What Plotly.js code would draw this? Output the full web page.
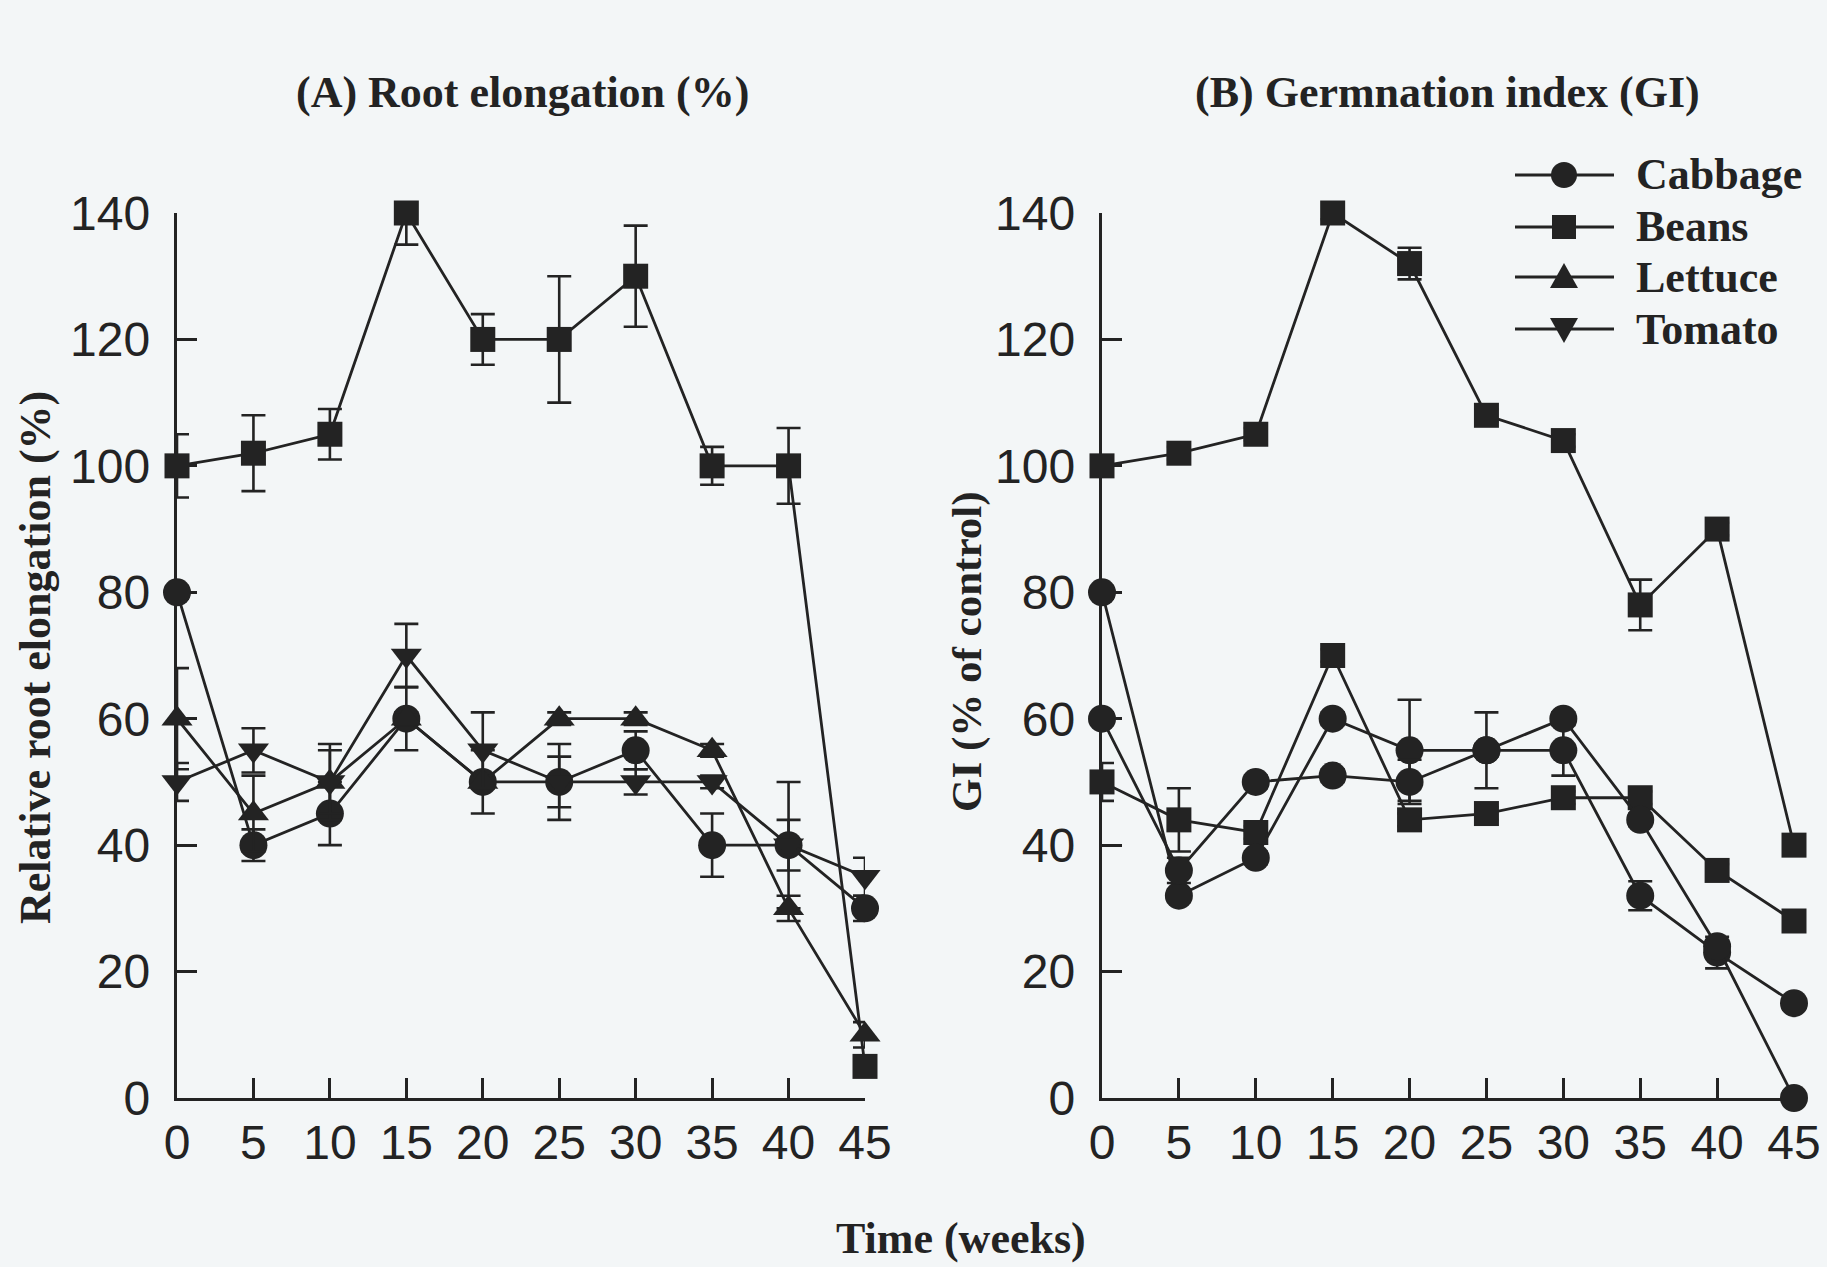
<!DOCTYPE html>
<html>
<head>
<meta charset="utf-8">
<script src="https://cdn.plot.ly/plotly-3.0.1.min.js"></script>
<style>
  html, body { margin: 0; padding: 0; background: #f3f6f7; }
  #chart { width: 1827px; height: 1267px; }
</style>
</head>
<body>
<div id="chart"></div>
<script>
// Sampling times (weeks of litter age)
const weeks = [0, 5, 10, 15, 20, 25, 30, 35, 40, 45];

// Species names (legend order)
const species = ["Cabbage", "Beans", "Lettuce", "Tomato"];

// (A) Relative root elongation (%)
const rootCabbage = [80, 40, 45, 60, 50, 50, 55, 40, 40, 30];
const rootBeans   = [100, 102, 105, 140, 120, 120, 130, 100, 100, 5];
const rootLettuce = [60, 45, 50, 60, 50, 60, 60, 55, 30, 10];
const rootTomato  = [50, 55, 50, 70, 55, 50, 50, 50, 40, 35];

const rootCabbageErr = [1, 2.5, 5, 5, 5, 6, 3, 5, 10, 2];
const rootBeansErr   = [5, 6, 4, 5, 4, 10, 8, 3, 6, 1];
const rootLettuceErr = [8, 6, 6, 1, 1, 1, 1, 1, 2, 2];
const rootTomatoErr  = [3, 3.5, 5, 5, 6, 4, 2, 1, 4, 3];

// (B) Germination index (% of control)
const giCabbage = [80, 32, 38, 60, 55, 55, 55, 32, 23, 15];
const giBeans   = [100, 102, 105, 140, 132, 108, 104, 78, 90, 40];
const giLettuce = [60, 36, 50, 51, 50, 55, 60, 44, 24, 0];
const giTomato  = [50, 44, 42, 70, 44, 45, 47.5, 47.5, 36, 28];

const giCabbageErr = [1, 1, 1, 1, 8, 6, 4, 2.3, 2.5, 1];
const giBeansErr   = [1, 1, 1, 1, 2.5, 1, 1, 4, 1, 1];
const giLettuceErr = [1, 2, 1, 1, 3.5, 1, 1, 1, 1, 1];
const giTomatoErr  = [3, 5, 1, 1, 1, 1, 1, 1, 1, 1];

const INK = '#232323';
const W = 1827, H = 1267;
const px = v => v / W;
const py = v => 1 - v / H;

const TICK_FONT = { family: 'Liberation Sans, Arial, sans-serif', size: 48, color: INK };
const SERIF = 'Liberation Serif, Times New Roman, serif';

function series(name, y, err, symbol, size, xa, ya) {
  return {
    type: 'scatter', mode: 'lines+markers', name: name,
    x: weeks, y: y, xaxis: xa, yaxis: ya,
    showlegend: false, cliponaxis: false,
    line: { color: INK, width: 2.8 },
    marker: { symbol: symbol, size: size, color: INK, line: { width: 0 } },
    error_y: { type: 'data', array: err, visible: true, color: INK, thickness: 2.6, width: 12 }
  };
}

const traces = [
  series(species[1], rootBeans, rootBeansErr, 'square', 25, 'x', 'y'),
  series(species[0], rootCabbage, rootCabbageErr, 'circle', 28, 'x', 'y'),
  series(species[2], rootLettuce, rootLettuceErr, 'triangle-up', 27, 'x', 'y'),
  series(species[3], rootTomato, rootTomatoErr, 'triangle-down', 27, 'x', 'y'),

  series(species[1], giBeans, giBeansErr, 'square', 25, 'x2', 'y2'),
  series(species[3], giTomato, giTomatoErr, 'square', 25, 'x2', 'y2'),
  series(species[0], giCabbage, giCabbageErr, 'circle', 28, 'x2', 'y2'),
  series(species[2], giLettuce, giLettuceErr, 'circle', 28, 'x2', 'y2')
];

function xAxis(domain) {
  return {
    domain: domain, range: [0, 45], tickvals: weeks,
    ticks: 'inside', ticklen: 20, tickwidth: 2.8, tickcolor: INK,
    showline: true, linewidth: 3.2, linecolor: INK,
    showgrid: false, zeroline: false, tickfont: TICK_FONT,
    ticklabelstandoff: 0, fixedrange: true
  };
}
function yAxis(anchor) {
  return {
    domain: [py(1098), py(213)], range: [0, 140], dtick: 20, anchor: anchor,
    ticks: 'inside', ticklen: 20, tickwidth: 2.8, tickcolor: INK,
    showline: true, linewidth: 3.2, linecolor: INK,
    showgrid: false, zeroline: false, tickfont: TICK_FONT,
    ticklabelstandoff: 14, fixedrange: true
  };
}

const annotations = [];
function label(text, x, y, size, angle) {
  annotations.push({
    text: '<b>' + text + '</b>', xref: 'paper', yref: 'paper',
    x: px(x), y: py(y), xanchor: 'center', yanchor: 'middle',
    showarrow: false, textangle: angle || 0,
    font: { family: SERIF, size: size, color: INK }
  });
}
label('(A) Root elongation (%)', 522, 93, 44);
label('(B) Germnation index (GI)', 1447, 93, 44);
label('Relative root elongation (%)', 35, 658, 44, -90);
label('GI (% of control)', 967, 652, 43, -90);
label('Time (weeks)', 961, 1238, 44);

// Legend drawn with long line samples in the upper right of panel B
const shapes = [];
const legendY = [175, 227, 277, 329];
const legendSymbols = ['circle', 'square', 'triangle-up', 'triangle-down'];
legendY.forEach((yy, i) => {
  shapes.push({
    type: 'line', xref: 'paper', yref: 'paper',
    x0: px(1515), x1: px(1614), y0: py(yy), y1: py(yy),
    line: { color: INK, width: 2.8 }
  });
  const base = {
    xref: 'paper', yref: 'paper', xsizemode: 'pixel', ysizemode: 'pixel',
    xanchor: px(1564), yanchor: py(yy), fillcolor: INK, line: { width: 0 }
  };
  const s = legendSymbols[i];
  if (s === 'circle') shapes.push(Object.assign({ type: 'circle', x0: -13, x1: 13, y0: -13, y1: 13 }, base));
  if (s === 'square') shapes.push(Object.assign({ type: 'rect', x0: -12, x1: 12, y0: -12, y1: 12 }, base));
  if (s === 'triangle-up') shapes.push(Object.assign({ type: 'path', path: 'M-14,-11 L14,-11 L0,14 Z' }, base));
  if (s === 'triangle-down') shapes.push(Object.assign({ type: 'path', path: 'M-14,11 L14,11 L0,-14 Z' }, base));
  annotations.push({
    text: '<b>' + species[i] + '</b>', xref: 'paper', yref: 'paper',
    x: px(1634), y: py(yy), xanchor: 'left', yanchor: 'middle', showarrow: false,
    font: { family: SERIF, size: 44, color: INK }
  });
});

const layout = {
  width: W, height: H,
  margin: { l: 0, r: 0, t: 0, b: 0 },
  paper_bgcolor: '#f3f6f7', plot_bgcolor: 'rgba(0,0,0,0)',
  showlegend: false,
  xaxis: Object.assign(xAxis([px(177), px(865)]), { anchor: 'y' }),
  yaxis: yAxis('x'),
  xaxis2: Object.assign(xAxis([px(1102), px(1794)]), { anchor: 'y2' }),
  yaxis2: yAxis('x2'),
  annotations: annotations,
  shapes: shapes
};

Plotly.newPlot('chart', traces, layout, { displayModeBar: false, staticPlot: true });
</script>
</body>
</html>
